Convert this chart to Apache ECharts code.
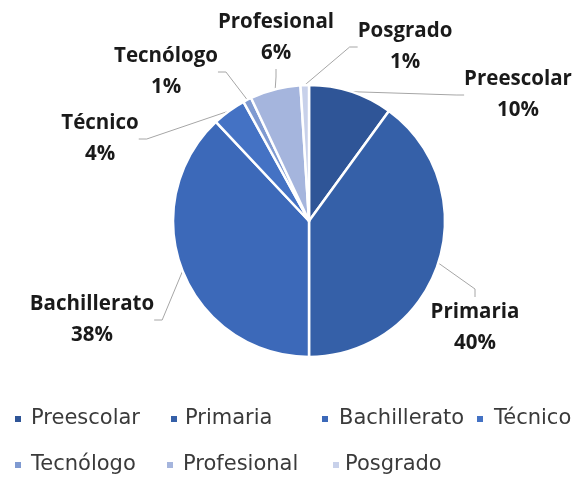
<!DOCTYPE html>
<html><head><meta charset="utf-8">
<script src="https://cdn.jsdelivr.net/npm/echarts@6/dist/echarts.min.js"></script>
<style>html,body{margin:0;padding:0;background:#fff}#c{width:577px;height:478px}</style>
</head><body><div id="c"></div>
<script>
const categories = ['Preescolar','Primaria','Bachillerato','Técnico','Tecnólogo','Profesional','Posgrado'];
const values = [10, 40, 38, 4, 1, 6, 1];
const colors = ['#2F5597','#3560A8','#3C69B9','#4472C4','#7F9AD1','#A5B5DD','#C8D1EA'];
// label centre positions (px) for layout
const labelPos = [[518,95],[475,328],[92,320],[100,139],[166,72],[276,38],[405,47]];
// legend layout (px): marker x, text x, row centre y
const legendMarkerX = [13,169,320,475,13,165,331];
const legendTextX   = [30,184,338,493,30,182,340];
const legendRowY    = [419,419,419,419,465,465,465];

const chart = echarts.init(document.getElementById('c'), null, {renderer:'canvas'});
const MW = 8, LH = 24, PT = 6;
const legends = categories.map((n,i)=>({
  data:[n], left:legendMarkerX[i], top:legendRowY[i]-(LH+PT)/2, orient:'horizontal',
  padding:0, icon:'rect', itemWidth:MW, itemHeight:MW, itemGap:0,
  textStyle:{fontFamily:'DejaVu Sans', fontSize:21, lineHeight:LH, color:'#3a3a3a',
    padding:[PT,0,0,Math.max(0, legendTextX[i]-legendMarkerX[i]-MW-5)]},
  selectedMode:false
}));
chart.setOption({
  animation:false,
  color: colors,
  legend: legends,
  series:[{
    type:'pie',
    center:[309,221],
    radius:[0,136],
    startAngle:90,
    clockwise:true,
    avoidLabelOverlap:false,
    itemStyle:{borderColor:'#fff', borderWidth:2.5},
    label:{
      show:true,
      formatter: p => p.name + '\n' + p.value + '%',
      fontFamily:'Open Sans', fontWeight:'bold', fontSize:20.5, color:'#1a1a1a',
      lineHeight:31, align:'center'
    },
    labelLine:{show:true, length:15, length2:8, lineStyle:{color:'#a6a6a6', width:1}},
    labelLayout: function(params){
      const p = labelPos[params.dataIndex];
      return {x:p[0], y:p[1], align:'center', verticalAlign:'middle'};
    },
    data: categories.map((n,i)=>({name:n, value:values[i]}))
  }]
});
</script></body></html>
